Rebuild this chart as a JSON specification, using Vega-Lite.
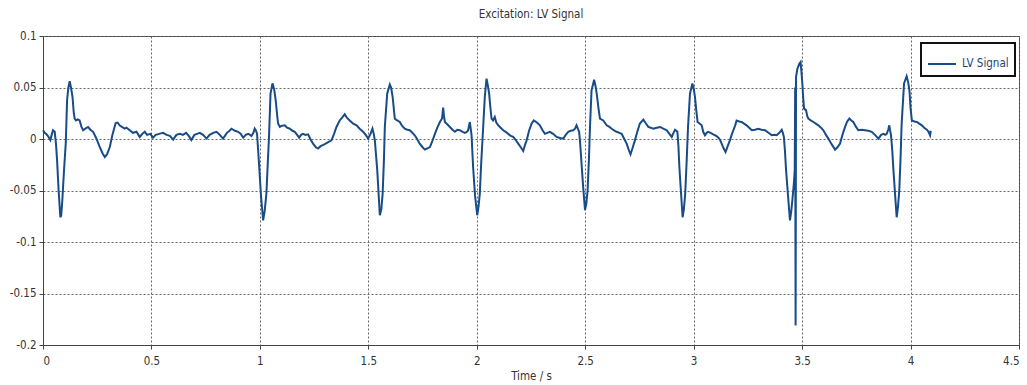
{
  "$schema": "https://vega.github.io/schema/vega-lite/v6.json",
  "width": 976,
  "height": 309,
  "autosize": {"type": "none"},
  "padding": {"left": 43, "top": 36, "right": 8, "bottom": 40},
  "background": "white",
  "title": {"text": "Excitation: LV Signal", "font": "DejaVu Sans Condensed", "fontSize": 11.5, "fontWeight": "normal", "color": "#333", "offset": 10, "anchor": "middle"},
  "data": {"values": [
    {"time":0.000,"value":0.0085},{"time":0.008,"value":0.006},{"time":0.016,"value":0.0046},{"time":0.026,"value":0.002},{"time":0.034,"value":-0.001},{"time":0.040,"value":0.004},{"time":0.046,"value":0.0085},{"time":0.054,"value":0.007},{"time":0.060,"value":-0.005},{"time":0.065,"value":-0.021},{"time":0.072,"value":-0.050},{"time":0.080,"value":-0.076},{"time":0.084,"value":-0.074},{"time":0.089,"value":-0.060},{"time":0.097,"value":-0.030},{"time":0.105,"value":-0.004},{"time":0.111,"value":0.0376},{"time":0.117,"value":0.050},{"time":0.123,"value":0.056},{"time":0.129,"value":0.050},{"time":0.136,"value":0.041},{"time":0.142,"value":0.025},{"time":0.146,"value":0.0198},{"time":0.152,"value":0.018},{"time":0.160,"value":0.019},{"time":0.169,"value":0.018},{"time":0.177,"value":0.012},{"time":0.185,"value":0.0085},{"time":0.195,"value":0.010},{"time":0.208,"value":0.0117},{"time":0.218,"value":0.009},{"time":0.231,"value":0.007},{"time":0.245,"value":0.001},{"time":0.262,"value":-0.0078},{"time":0.275,"value":-0.014},{"time":0.285,"value":-0.0175},{"time":0.295,"value":-0.015},{"time":0.308,"value":-0.0078},{"time":0.320,"value":0.004},{"time":0.335,"value":0.0155},{"time":0.344,"value":0.016},{"time":0.354,"value":0.013},{"time":0.362,"value":0.012},{"time":0.377,"value":0.010},{"time":0.385,"value":0.011},{"time":0.400,"value":0.0085},{"time":0.415,"value":0.006},{"time":0.431,"value":0.007},{"time":0.440,"value":0.004},{"time":0.446,"value":0.002},{"time":0.458,"value":0.005},{"time":0.469,"value":0.007},{"time":0.480,"value":0.004},{"time":0.495,"value":0.005},{"time":0.507,"value":0.0013},{"time":0.520,"value":0.004},{"time":0.535,"value":0.005},{"time":0.554,"value":0.006},{"time":0.570,"value":0.004},{"time":0.585,"value":0.003},{"time":0.600,"value":-0.0006},{"time":0.615,"value":0.004},{"time":0.631,"value":0.005},{"time":0.645,"value":0.004},{"time":0.660,"value":0.006},{"time":0.672,"value":0.003},{"time":0.684,"value":-0.001},{"time":0.698,"value":0.004},{"time":0.710,"value":0.005},{"time":0.723,"value":0.006},{"time":0.738,"value":0.004},{"time":0.754,"value":0.0004},{"time":0.768,"value":0.004},{"time":0.785,"value":0.006},{"time":0.800,"value":0.007},{"time":0.815,"value":0.004},{"time":0.830,"value":0.0004},{"time":0.848,"value":0.006},{"time":0.860,"value":0.008},{"time":0.869,"value":0.010},{"time":0.885,"value":0.008},{"time":0.900,"value":0.007},{"time":0.912,"value":0.005},{"time":0.923,"value":0.0013},{"time":0.935,"value":0.004},{"time":0.946,"value":0.005},{"time":0.955,"value":0.004},{"time":0.961,"value":0.003},{"time":0.970,"value":0.006},{"time":0.976,"value":0.010},{"time":0.982,"value":0.008},{"time":0.987,"value":0.005},{"time":0.991,"value":-0.008},{"time":0.996,"value":-0.024},{"time":1.005,"value":-0.055},{"time":1.015,"value":-0.079},{"time":1.022,"value":-0.070},{"time":1.030,"value":-0.053},{"time":1.036,"value":-0.025},{"time":1.042,"value":0.002},{"time":1.049,"value":0.044},{"time":1.058,"value":0.054},{"time":1.066,"value":0.048},{"time":1.073,"value":0.0376},{"time":1.080,"value":0.022},{"time":1.084,"value":0.015},{"time":1.092,"value":0.0117},{"time":1.103,"value":0.013},{"time":1.115,"value":0.0133},{"time":1.125,"value":0.011},{"time":1.138,"value":0.010},{"time":1.150,"value":0.008},{"time":1.161,"value":0.007},{"time":1.172,"value":0.004},{"time":1.181,"value":0.0013},{"time":1.190,"value":0.004},{"time":1.199,"value":0.005},{"time":1.210,"value":0.004},{"time":1.222,"value":0.0045},{"time":1.235,"value":-0.001},{"time":1.245,"value":-0.0045},{"time":1.258,"value":-0.008},{"time":1.268,"value":-0.0093},{"time":1.280,"value":-0.007},{"time":1.290,"value":-0.006},{"time":1.299,"value":-0.005},{"time":1.315,"value":-0.003},{"time":1.330,"value":-0.0013},{"time":1.342,"value":0.005},{"time":1.353,"value":0.0117},{"time":1.368,"value":0.018},{"time":1.380,"value":0.021},{"time":1.391,"value":0.024},{"time":1.400,"value":0.021},{"time":1.414,"value":0.018},{"time":1.430,"value":0.015},{"time":1.446,"value":0.0133},{"time":1.460,"value":0.010},{"time":1.476,"value":0.007},{"time":1.488,"value":0.004},{"time":1.499,"value":0.0004},{"time":1.510,"value":0.005},{"time":1.519,"value":0.010},{"time":1.525,"value":0.005},{"time":1.530,"value":-0.0013},{"time":1.541,"value":-0.030},{"time":1.553,"value":-0.074},{"time":1.560,"value":-0.068},{"time":1.566,"value":-0.053},{"time":1.572,"value":-0.020},{"time":1.576,"value":0.0117},{"time":1.587,"value":0.044},{"time":1.599,"value":0.053},{"time":1.605,"value":0.050},{"time":1.612,"value":0.041},{"time":1.622,"value":0.0198},{"time":1.633,"value":0.018},{"time":1.645,"value":0.0165},{"time":1.655,"value":0.013},{"time":1.668,"value":0.010},{"time":1.680,"value":0.009},{"time":1.691,"value":0.0085},{"time":1.703,"value":0.006},{"time":1.714,"value":0.0036},{"time":1.725,"value":0.000},{"time":1.737,"value":-0.0045},{"time":1.750,"value":-0.008},{"time":1.761,"value":-0.0103},{"time":1.772,"value":-0.009},{"time":1.784,"value":-0.0078},{"time":1.795,"value":-0.002},{"time":1.807,"value":0.005},{"time":1.818,"value":0.011},{"time":1.830,"value":0.0165},{"time":1.840,"value":0.020},{"time":1.845,"value":0.0305},{"time":1.849,"value":0.022},{"time":1.853,"value":0.0165},{"time":1.865,"value":0.014},{"time":1.876,"value":0.0117},{"time":1.888,"value":0.009},{"time":1.899,"value":0.007},{"time":1.910,"value":0.009},{"time":1.922,"value":0.0085},{"time":1.935,"value":0.007},{"time":1.945,"value":0.006},{"time":1.955,"value":0.007},{"time":1.960,"value":0.0085},{"time":1.968,"value":0.0165},{"time":1.972,"value":0.010},{"time":1.976,"value":0.0036},{"time":1.983,"value":-0.027},{"time":1.992,"value":-0.055},{"time":2.002,"value":-0.074},{"time":2.008,"value":-0.066},{"time":2.014,"value":-0.053},{"time":2.020,"value":-0.025},{"time":2.027,"value":0.002},{"time":2.037,"value":0.041},{"time":2.045,"value":0.0586},{"time":2.051,"value":0.052},{"time":2.057,"value":0.044},{"time":2.063,"value":0.030},{"time":2.068,"value":0.0198},{"time":2.075,"value":0.018},{"time":2.083,"value":0.0214},{"time":2.090,"value":0.016},{"time":2.099,"value":0.0133},{"time":2.110,"value":0.011},{"time":2.122,"value":0.0085},{"time":2.133,"value":0.007},{"time":2.145,"value":0.005},{"time":2.157,"value":0.003},{"time":2.168,"value":0.002},{"time":2.180,"value":-0.001},{"time":2.191,"value":-0.0045},{"time":2.203,"value":-0.008},{"time":2.214,"value":-0.0116},{"time":2.222,"value":-0.006},{"time":2.230,"value":-0.0013},{"time":2.241,"value":0.008},{"time":2.253,"value":0.015},{"time":2.263,"value":0.018},{"time":2.277,"value":0.016},{"time":2.291,"value":0.0133},{"time":2.302,"value":0.009},{"time":2.314,"value":0.005},{"time":2.325,"value":0.006},{"time":2.337,"value":0.007},{"time":2.352,"value":0.005},{"time":2.368,"value":0.002},{"time":2.384,"value":0.001},{"time":2.399,"value":0.0004},{"time":2.410,"value":0.004},{"time":2.422,"value":0.007},{"time":2.433,"value":0.008},{"time":2.445,"value":0.0085},{"time":2.453,"value":0.010},{"time":2.460,"value":0.0133},{"time":2.466,"value":0.010},{"time":2.472,"value":0.007},{"time":2.477,"value":-0.005},{"time":2.483,"value":-0.024},{"time":2.491,"value":-0.048},{"time":2.499,"value":-0.069},{"time":2.505,"value":-0.063},{"time":2.511,"value":-0.050},{"time":2.517,"value":-0.020},{"time":2.522,"value":0.0117},{"time":2.529,"value":0.047},{"time":2.541,"value":0.0576},{"time":2.547,"value":0.052},{"time":2.553,"value":0.044},{"time":2.561,"value":0.030},{"time":2.568,"value":0.0198},{"time":2.583,"value":0.018},{"time":2.599,"value":0.0133},{"time":2.610,"value":0.012},{"time":2.622,"value":0.010},{"time":2.635,"value":0.008},{"time":2.645,"value":0.007},{"time":2.657,"value":0.006},{"time":2.668,"value":0.005},{"time":2.680,"value":0.000},{"time":2.691,"value":-0.0045},{"time":2.700,"value":-0.010},{"time":2.709,"value":-0.0149},{"time":2.718,"value":-0.009},{"time":2.729,"value":-0.0013},{"time":2.740,"value":0.007},{"time":2.752,"value":0.015},{"time":2.768,"value":0.0188},{"time":2.780,"value":0.015},{"time":2.791,"value":0.0117},{"time":2.802,"value":0.011},{"time":2.814,"value":0.010},{"time":2.830,"value":0.011},{"time":2.845,"value":0.0117},{"time":2.860,"value":0.010},{"time":2.876,"value":0.0085},{"time":2.888,"value":0.005},{"time":2.899,"value":0.002},{"time":2.907,"value":0.006},{"time":2.914,"value":0.009},{"time":2.920,"value":0.008},{"time":2.925,"value":0.007},{"time":2.930,"value":-0.008},{"time":2.934,"value":-0.027},{"time":2.941,"value":-0.050},{"time":2.949,"value":-0.076},{"time":2.955,"value":-0.068},{"time":2.961,"value":-0.053},{"time":2.968,"value":-0.020},{"time":2.974,"value":0.0117},{"time":2.983,"value":0.044},{"time":2.994,"value":0.054},{"time":3.000,"value":0.049},{"time":3.006,"value":0.041},{"time":3.012,"value":0.028},{"time":3.018,"value":0.0165},{"time":3.027,"value":0.015},{"time":3.037,"value":0.0133},{"time":3.044,"value":0.007},{"time":3.052,"value":0.0036},{"time":3.060,"value":0.006},{"time":3.067,"value":0.007},{"time":3.078,"value":0.006},{"time":3.090,"value":0.0045},{"time":3.104,"value":0.003},{"time":3.114,"value":0.0013},{"time":3.122,"value":-0.001},{"time":3.129,"value":-0.0045},{"time":3.138,"value":-0.009},{"time":3.147,"value":-0.0126},{"time":3.157,"value":-0.007},{"time":3.167,"value":-0.0013},{"time":3.175,"value":0.004},{"time":3.183,"value":0.0085},{"time":3.191,"value":0.013},{"time":3.198,"value":0.018},{"time":3.210,"value":0.017},{"time":3.221,"value":0.0165},{"time":3.232,"value":0.015},{"time":3.244,"value":0.0133},{"time":3.256,"value":0.011},{"time":3.268,"value":0.0085},{"time":3.283,"value":0.009},{"time":3.298,"value":0.010},{"time":3.313,"value":0.009},{"time":3.329,"value":0.0085},{"time":3.345,"value":0.006},{"time":3.360,"value":0.0036},{"time":3.372,"value":0.004},{"time":3.383,"value":0.0036},{"time":3.395,"value":0.006},{"time":3.406,"value":0.009},{"time":3.411,"value":0.006},{"time":3.416,"value":0.002},{"time":3.421,"value":-0.012},{"time":3.426,"value":-0.030},{"time":3.435,"value":-0.055},{"time":3.444,"value":-0.079},{"time":3.450,"value":-0.070},{"time":3.455,"value":-0.0595},{"time":3.462,"value":-0.043},{"time":3.466,"value":-0.030},{"time":3.468,"value":0.050},{"time":3.470,"value":-0.181},{"time":3.472,"value":0.060},{"time":3.478,"value":0.068},{"time":3.487,"value":0.073},{"time":3.493,"value":0.0748},{"time":3.497,"value":0.065},{"time":3.501,"value":0.054},{"time":3.505,"value":0.040},{"time":3.509,"value":0.0295},{"time":3.518,"value":0.028},{"time":3.524,"value":0.022},{"time":3.529,"value":0.0198},{"time":3.540,"value":0.018},{"time":3.552,"value":0.0165},{"time":3.563,"value":0.015},{"time":3.575,"value":0.0133},{"time":3.587,"value":0.011},{"time":3.598,"value":0.0085},{"time":3.610,"value":0.004},{"time":3.621,"value":0.0004},{"time":3.636,"value":-0.005},{"time":3.652,"value":-0.0103},{"time":3.663,"value":-0.008},{"time":3.675,"value":-0.0045},{"time":3.686,"value":0.004},{"time":3.698,"value":0.0117},{"time":3.708,"value":0.017},{"time":3.718,"value":0.0198},{"time":3.727,"value":0.018},{"time":3.736,"value":0.0165},{"time":3.748,"value":0.012},{"time":3.759,"value":0.0085},{"time":3.775,"value":0.009},{"time":3.790,"value":0.0085},{"time":3.805,"value":0.008},{"time":3.821,"value":0.007},{"time":3.836,"value":0.004},{"time":3.852,"value":0.0004},{"time":3.864,"value":0.004},{"time":3.875,"value":0.005},{"time":3.883,"value":0.004},{"time":3.890,"value":0.005},{"time":3.897,"value":0.009},{"time":3.902,"value":0.0133},{"time":3.906,"value":0.008},{"time":3.910,"value":0.0036},{"time":3.916,"value":-0.012},{"time":3.921,"value":-0.030},{"time":3.929,"value":-0.055},{"time":3.936,"value":-0.076},{"time":3.942,"value":-0.066},{"time":3.948,"value":-0.050},{"time":3.954,"value":-0.018},{"time":3.959,"value":0.015},{"time":3.970,"value":0.054},{"time":3.982,"value":0.061},{"time":3.989,"value":0.055},{"time":3.995,"value":0.047},{"time":4.000,"value":0.030},{"time":4.006,"value":0.018},{"time":4.018,"value":0.017},{"time":4.029,"value":0.0165},{"time":4.040,"value":0.015},{"time":4.052,"value":0.0133},{"time":4.063,"value":0.011},{"time":4.075,"value":0.009},{"time":4.083,"value":0.007},{"time":4.090,"value":0.0036},{"time":4.093,"value":0.008}
  ]},
  "mark": {"type": "line", "strokeWidth": 2, "interpolate": "linear"},
  "encoding": {
    "x": {"field": "time", "type": "quantitative", "title": "Time / s",
      "scale": {"domain": [0, 4.5], "nice": false, "zero": false},
      "axis": {"values": [0, 0.5, 1, 1.5, 2, 2.5, 3, 3.5, 4, 4.5], "labelExpr": "'' + datum.value", "labelPadding": 6, "titlePadding": 4}},
    "y": {"field": "value", "type": "quantitative", "title": null,
      "scale": {"domain": [-0.2, 0.1], "nice": false, "zero": false},
      "axis": {"values": [-0.2, -0.15, -0.1, -0.05, 0, 0.05, 0.1], "labelExpr": "'' + datum.value"}},
    "color": {"datum": "LV Signal", "type": "nominal",
      "scale": {"range": ["#184C88"]},
      "legend": {"title": null, "orient": "none", "legendX": 878, "legendY": 7,
        "symbolType": "stroke", "symbolSize": 784, "symbolStrokeWidth": 2,
        "strokeColor": "#111", "fillColor": "white", "padding": 6,
        "labelFont": "DejaVu Sans Condensed", "labelFontSize": 11.5, "labelColor": "#1F3F6F", "labelOffset": 5,
        "encode": {"legend": {"update": {"strokeWidth": {"value": 2}}}}}}
  },
  "config": {
    "view": {"stroke": "#444", "strokeWidth": 1},
    "axis": {
      "labelFont": "DejaVu Sans Condensed", "labelFontSize": 11.5, "labelColor": "#333",
      "titleFont": "DejaVu Sans Condensed", "titleFontSize": 11.5, "titleFontWeight": "normal", "titleColor": "#333",
      "domainColor": "#444", "tickColor": "#444", "tickSize": 4, "labelPadding": 3,
      "gridColor": "#666", "gridDash": [2, 2], "gridWidth": 1, "gridOpacity": 1
    }
  }
}
